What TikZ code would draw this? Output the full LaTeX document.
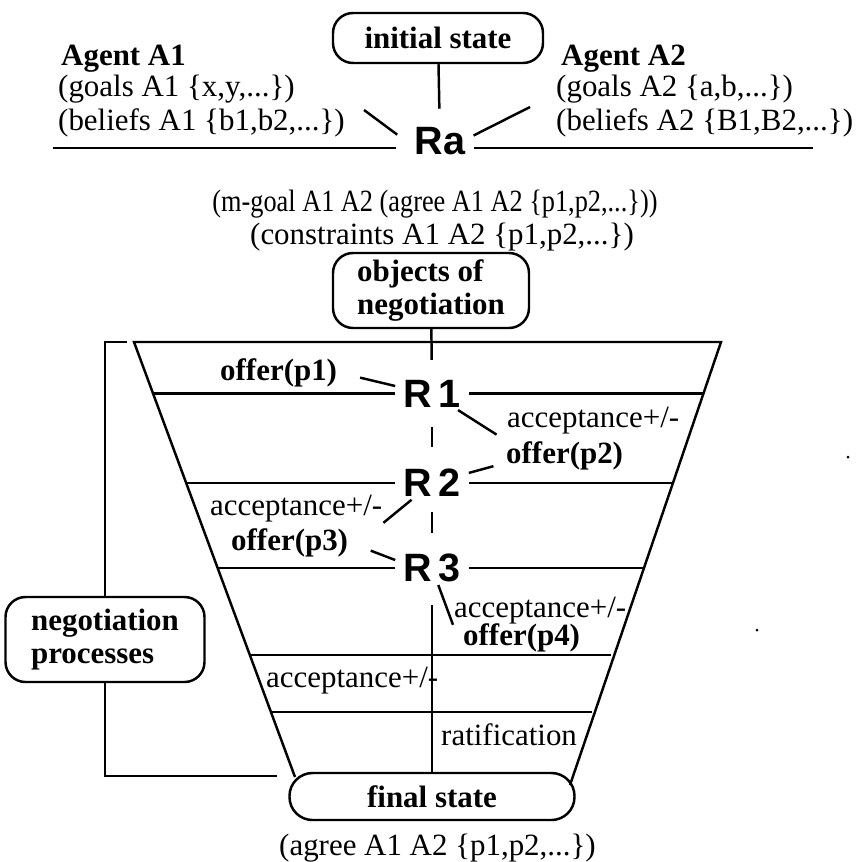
\documentclass[tikz,border=0pt]{standalone}
\usepackage{fontspec}
\setmainfont{Liberation Serif}
\newfontfamily\rsans{Liberation Sans}
\begin{document}
\begin{tikzpicture}[
    font=\fontsize{17.6}{18.4}\selectfont,
    line width=1.4pt,
    state/.style={draw, rounded corners=0.4cm, align=left,
                  font=\fontsize{17.6}{18.4}\selectfont\bfseries},
    txt/.style={inner sep=0pt, anchor=base west},
    lbl/.style={txt, font=\fontsize{17.6}{18.4}\selectfont\bfseries},
    rnd/.style={font=\rsans\bfseries\fontsize{22.5}{24}\selectfont,
                inner xsep=4pt, inner ysep=1pt}
]
\useasboundingbox (0,0) rectangle (17.26,-17.22);

% initial state and the two agents
\node[state, minimum width=4.2cm, minimum height=1cm] (init) at (8.76,-0.76) {initial state};
\node[rnd] (Ra) at (8.8,-2.83) {Ra};
\node[lbl] (a1name) at (1.2,-1.3) {Agent A1};
\node[txt] (a1goals) at (1.14,-1.92) {(goals A1 \{x,y,...\})};
\node[txt] (a1bel) at (1.14,-2.6) {(beliefs A1 \{b1,b2,...\})};
\node[lbl] (a2name) at (11.2,-1.3) {Agent A2};
\node[txt] (a2goals) at (11.1,-1.92) {(goals A2 \{a,b,...\})};
\node[txt] (a2bel) at (11.1,-2.6) {(beliefs A2 \{B1,B2,...\})};

\coordinate (al) at (1.06,-2.96);
\coordinate (ar) at (16.26,-2.96);
\draw[shorten >=0.2cm] (al) -- (al -| Ra.west);
\draw (ar -| Ra.east) -- (ar);
\draw[shorten >=0.32cm] (init) -- (Ra);
\draw[shorten <=0.1cm, shorten >=0.23cm] ([xshift=0.28cm]a1bel.north east) -- (Ra.west);
\draw ([yshift=0.12cm]Ra.east) -- ([xshift=-0.5cm]a2bel.north west);

\node[anchor=base, inner sep=0pt] (mgoal) at (8.7,-4.22) {\scalebox{0.85}[1]{(m-goal A1 A2 (agree A1 A2 \{p1,p2,...\}))}};
\node[anchor=base, inner sep=0pt] (constr) at (8.84,-4.88) {(constraints A1 A2 \{p1,p2,...\})};

% negotiation funnel
\node[state, minimum width=3.92cm, minimum height=1.5cm] (obj) at (8.62,-5.81) {objects of\\negotiation};
\node[rnd] (R1) at (8.64,-7.87) {R\,1};
\node[rnd] (R2) at (8.64,-9.66) {R\,2};
\node[rnd] (R3) at (8.64,-11.36) {R\,3};
\node[state, minimum width=5.7cm, minimum height=0.94cm, rounded corners=0.46cm] (final) at (8.64,-15.93) {final state};

\coordinate (TL) at (2.68,-6.84);
\coordinate (TR) at (14.42,-6.84);
\coordinate (BL) at (5.9,-15.54);
\coordinate (BR) at (11.4,-15.7);
\draw (BL) -- (TL) -- (TR) -- (BR);
\draw (3.06,-7.87) -- (R1) -- (14.07,-7.87);
\draw (3.72,-9.66) -- (R2) -- (13.46,-9.66);
\draw (4.35,-11.36) -- (R3) -- (12.88,-11.36);
\draw (5.0,-13.1) -- (12.22,-13.1);
\draw (5.42,-14.24) -- (11.84,-14.24);

\draw[shorten >=0.34cm] (obj) -- (R1);
\draw[shorten <=0.34cm, shorten >=0.38cm] (R1) -- (R2);
\draw[shorten <=0.24cm, shorten >=0.37cm] (R2) -- (R3);
\draw[shorten <=0.4cm] (R3) -- (final);

% offers and answers
\node[lbl] (off1) at (4.38,-7.6) {offer(p1)};
\node[txt] (acc2) at (10.12,-8.54) {acceptance+/-};
\node[lbl] (off2) at (10.1,-9.26) {offer(p2)};
\node[txt] (acc3) at (4.18,-10.3) {acceptance+/-};
\node[lbl] (off3) at (4.6,-11.0) {offer(p3)};
\node[txt] (acc4) at (9.06,-12.34) {acceptance+/-};
\node[lbl] (off4) at (9.24,-12.9) {offer(p4)};
\node[txt] (acc5) at (5.3,-13.74) {acceptance+/-};
\node[txt] (ratif) at (8.8,-14.9) {ratification};

\draw[shorten <=0.45cm] (off1.east) -- ([yshift=0.15cm]R1.west);
\draw[shorten >=0.2cm] (R1) -- (off2.north west);
\draw[shorten >=0.24cm] (R2) -- (off2.base west);
\draw (R2) -- (acc3.south east);
\draw[shorten <=0.46cm] (off3.east) -- ([yshift=0.16cm]R3.west);
\draw (R3) -- (acc4.south west);

% bracket round the processes
\node[state, minimum width=3.98cm, minimum height=1.7cm] (nego) at (2.1,-12.79) {negotiation\\processes};
\coordinate (bt) at (2.54,-6.84);
\coordinate (bb) at (5.54,-15.52);
\draw (bt) -| (nego);
\draw (nego) |- (bb);

\node[anchor=base, inner sep=0pt] (agree) at (8.75,-17.1) {(agree A1 A2 \{p1,p2,...\})};

% two stray dots
\fill (16.96,-9.14) circle (0.03);
\fill (15.14,-12.6) circle (0.03);
\end{tikzpicture}
\end{document}
